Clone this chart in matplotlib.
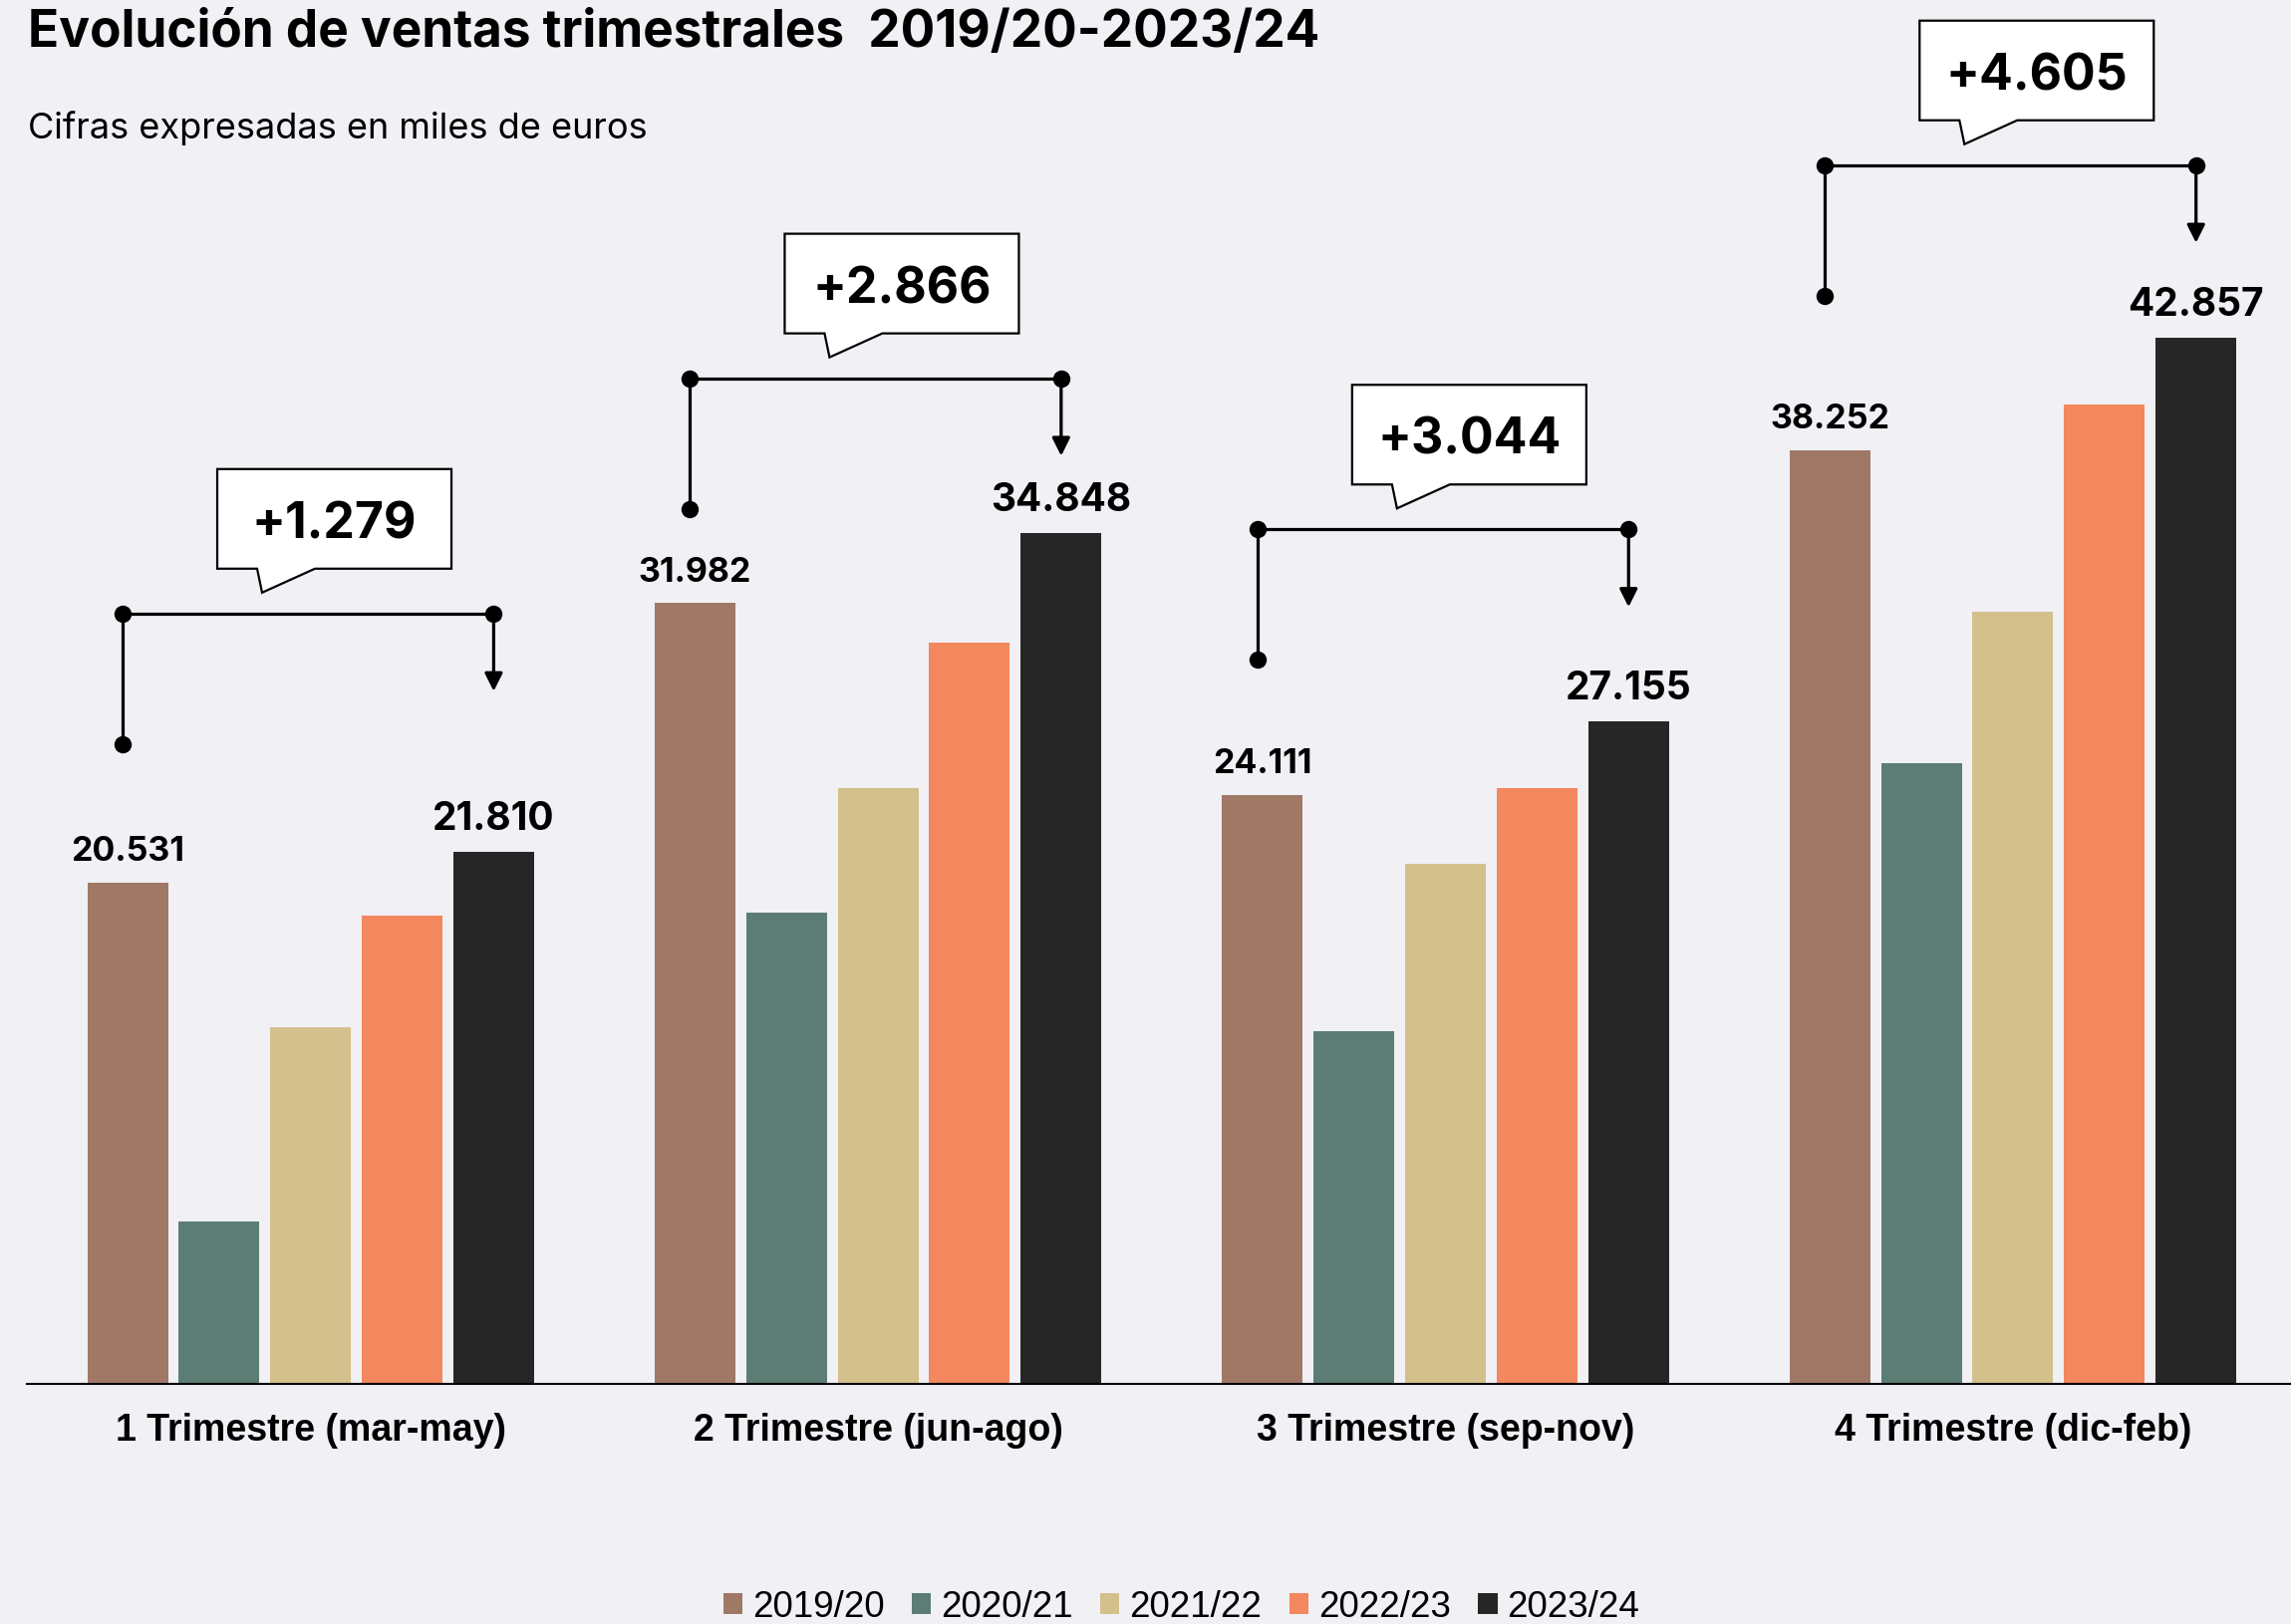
import matplotlib
matplotlib.use('Agg')
import matplotlib.pyplot as plt
from matplotlib.patches import Polygon
import numpy as np

# Ventas trimestrales (miles de euros)
quarters = ["1 Trimestre (mar-may)", "2 Trimestre (jun-ago)",
            "3 Trimestre (sep-nov)", "4 Trimestre (dic-feb)"]
seasons = ["2019/20", "2020/21", "2021/22", "2022/23", "2023/24"]
v_2019_20 = [20531, 31982, 24111, 38252]
v_2020_21 = [6670, 19290, 14460, 25420]
v_2021_22 = [14600, 24400, 21320, 31630]
v_2022_23 = [19180, 30370, 24410, 40110]
v_2023_24 = [21810, 34848, 27155, 42857]
series = [v_2019_20, v_2020_21, v_2021_22, v_2022_23, v_2023_24]

colors = ["#A07866", "#5C7D74", "#D4C08D", "#F3875D", "#262626"]
BG = "#F0F0F5"

# height of the comparison bracket above each group
bracket_levels = [31560, 41200, 35010, 49930]


def fmt(v):
    return f"{v:,}".replace(",", ".")


W, H = 2299, 1631
fig = plt.figure(figsize=(W / 100, H / 100), dpi=100, facecolor=BG)
base_px = 1390
ax_left = 27 / W
ax_bottom = (H - base_px) / H
ax = fig.add_axes([ax_left, ax_bottom, 1 - ax_left, 1 - ax_bottom])
ax.set_facecolor(BG)

xmin, xmax = -0.5, 3.49
ymax = 56735
ax.set_xlim(xmin, xmax)
ax.set_ylim(0, ymax)

# pixel -> data helpers
px_x = (1 - ax_left) * W / (xmax - xmin)
px_y = base_px / ymax


def dx(p):
    return p / px_x


def dy(p):
    return p / px_y


x = np.arange(len(quarters))
step = 0.1613
width = 0.1423
bars = []
for i, (vals, lab, col) in enumerate(zip(series, seasons, colors)):
    b = ax.bar(x + (i - 2) * step, vals, width, color=col, label=lab, zorder=2)
    bars.append(b)

num_font = "Inter"

# value labels on first and last season (last one a bit bigger)
for i, fs in ((0, 24.5), (4, 28)):
    for xi, v in zip(x + (i - 2) * step, series[i]):
        ax.annotate(fmt(v), (xi, v), xytext=(0, 16.5), textcoords="offset points",
                    ha="center", va="baseline", fontsize=fs, fontweight="bold",
                    family=num_font)

# brackets + callout boxes
lw = 2.3
for q in range(len(quarters)):
    xl = x[q] - 2 * step - dx(5)
    xr = x[q] + 2 * step
    lev = bracket_levels[q]
    dot = lev - dy(131)
    tip = lev - dy(78)
    ax.plot([xl, xl, xr], [dot, lev, lev], color="black", lw=lw,
            solid_capstyle="butt", zorder=3)
    ax.plot([xl, xl, xr], [dot, lev, lev], "o", color="black", ms=11.5, zorder=3)
    ax.annotate("", xy=(xr, tip), xytext=(xr, lev),
                arrowprops=dict(arrowstyle="-|>,head_length=0.54,head_width=0.27",
                                color="black", lw=lw, shrinkA=0, shrinkB=0,
                                mutation_scale=20), zorder=3)

    diff = v_2023_24[q] - v_2019_20[q]
    bl = xl + dx(95)
    bw = dx(235)
    bb = lev + dy(45)
    bh = dy(100)
    verts = [(bl, bb), (bl + dx(40), bb), (bl + dx(45), bb - dy(24)),
             (bl + dx(98), bb), (bl + bw, bb), (bl + bw, bb + bh), (bl, bb + bh)]
    ax.add_patch(Polygon(verts, closed=True, facecolor="white", edgecolor="black",
                         lw=1.6, joinstyle="miter", zorder=4))
    ax.text(bl + bw / 2, bb + dy(31.5), "+" + fmt(diff), ha="center", va="baseline",
            fontsize=36, fontweight="bold", family=num_font, zorder=5)

# axis styling
for s in ("top", "right", "left"):
    ax.spines[s].set_visible(False)
ax.spines["bottom"].set_linewidth(1.5)
ax.spines["bottom"].set_color("black")
ax.spines["bottom"].set_zorder(3)
ax.set_yticks([])
ax.set_xticks(x, quarters, fontsize=27, fontweight="bold", family="Liberation Sans")
ax.tick_params(axis="x", length=0, pad=20)

fig.text(28 / W, 1 - 46.7 / H, "Evolución de ventas trimestrales  2019/20-2023/24",
         fontsize=37, fontweight="bold", family="Inter", va="baseline")
fig.text(28 / W, 1 - 139.3 / H, "Cifras expresadas en miles de euros",
         fontsize=26, family="Inter", va="baseline")

fig.legend(bars, seasons, loc="center", bbox_to_anchor=(1185.5 / W, 1 - 1614 / H),
           ncol=5, frameon=False, prop=dict(family="Liberation Sans", size=26.5),
           handlelength=0.52, handleheight=0.5, handletextpad=0.27,
           columnspacing=0.75, borderpad=0, borderaxespad=0)

fig.savefig("out.png", dpi=100, facecolor=BG)
